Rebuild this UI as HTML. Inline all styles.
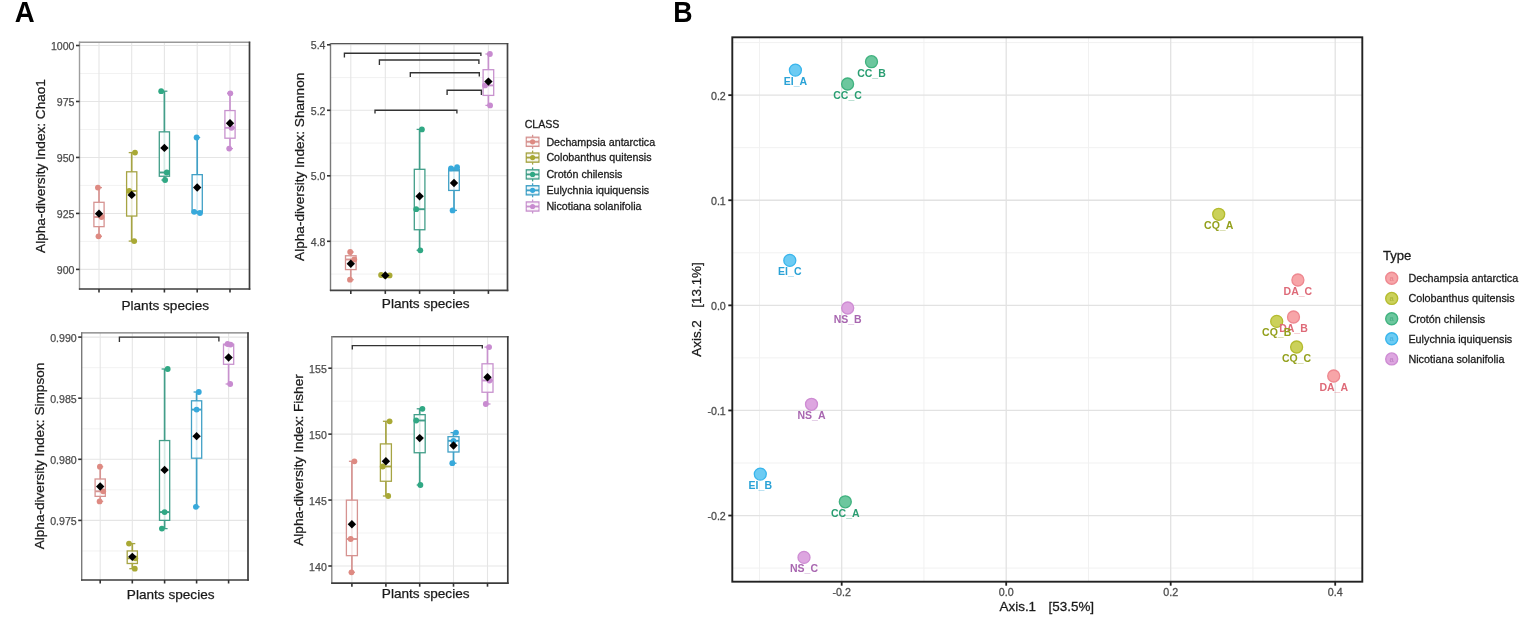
<!DOCTYPE html>
<html><head><meta charset="utf-8"><title>Alpha diversity and PCoA</title>
<style>html,body{margin:0;padding:0;background:#fff;} svg{display:block;filter:blur(0.3px);}</style></head>
<body>
<svg width="1535" height="623" viewBox="0 0 1535 623" font-family='"Liberation Sans", "DejaVu Sans", sans-serif'>
<rect width="1535" height="623" fill="#FFFFFF"/>
<text transform="translate(14.7,21.8) scale(0.945,1)" font-size="29.2" font-weight="bold" fill="#000">A</text>
<text transform="translate(673.3,21.8) scale(0.915,1)" font-size="29.2" font-weight="bold" fill="#000">B</text>
<line x1="79.50" y1="73.49" x2="249.50" y2="73.49" stroke="#F1F1F1" stroke-width="0.9" />
<line x1="79.50" y1="129.46" x2="249.50" y2="129.46" stroke="#F1F1F1" stroke-width="0.9" />
<line x1="79.50" y1="185.44" x2="249.50" y2="185.44" stroke="#F1F1F1" stroke-width="0.9" />
<line x1="79.50" y1="241.41" x2="249.50" y2="241.41" stroke="#F1F1F1" stroke-width="0.9" />
<line x1="99.00" y1="42.20" x2="99.00" y2="289.00" stroke="#E5E5E5" stroke-width="1.1" />
<line x1="131.70" y1="42.20" x2="131.70" y2="289.00" stroke="#E5E5E5" stroke-width="1.1" />
<line x1="164.40" y1="42.20" x2="164.40" y2="289.00" stroke="#E5E5E5" stroke-width="1.1" />
<line x1="197.20" y1="42.20" x2="197.20" y2="289.00" stroke="#E5E5E5" stroke-width="1.1" />
<line x1="230.00" y1="42.20" x2="230.00" y2="289.00" stroke="#E5E5E5" stroke-width="1.1" />
<line x1="79.50" y1="45.50" x2="249.50" y2="45.50" stroke="#E5E5E5" stroke-width="1.1" />
<line x1="79.50" y1="101.47" x2="249.50" y2="101.47" stroke="#E5E5E5" stroke-width="1.1" />
<line x1="79.50" y1="157.45" x2="249.50" y2="157.45" stroke="#E5E5E5" stroke-width="1.1" />
<line x1="79.50" y1="213.43" x2="249.50" y2="213.43" stroke="#E5E5E5" stroke-width="1.1" />
<line x1="79.50" y1="269.40" x2="249.50" y2="269.40" stroke="#E5E5E5" stroke-width="1.1" />
<line x1="99.00" y1="187.60" x2="99.00" y2="236.30" stroke="#D69391" stroke-width="1.7" />
<line x1="96.00" y1="187.60" x2="102.00" y2="187.60" stroke="#D69391" stroke-width="1.3" />
<line x1="96.00" y1="236.30" x2="102.00" y2="236.30" stroke="#D69391" stroke-width="1.3" />
<rect x="93.90" y="202.30" width="10.20" height="24.35" fill="#fff" fill-opacity="0.78" stroke="#D69391" stroke-width="1.3"/>
<line x1="93.90" y1="217.00" x2="104.10" y2="217.00" stroke="#D69391" stroke-width="1.9" />
<circle cx="97.90" cy="187.60" r="2.9" fill="#DE8A82"/>
<circle cx="101.50" cy="217.00" r="2.9" fill="#DE8A82"/>
<circle cx="98.50" cy="236.30" r="2.9" fill="#DE8A82"/>
<path d="M99.00 209.43 L103.20 213.63 L99.00 217.83 L94.80 213.63 Z" fill="#000"/>
<line x1="131.70" y1="152.60" x2="131.70" y2="241.10" stroke="#A6A443" stroke-width="1.7" />
<line x1="128.70" y1="152.60" x2="134.70" y2="152.60" stroke="#A6A443" stroke-width="1.3" />
<line x1="128.70" y1="241.10" x2="134.70" y2="241.10" stroke="#A6A443" stroke-width="1.3" />
<rect x="126.60" y="171.80" width="10.20" height="44.25" fill="#fff" fill-opacity="0.78" stroke="#A6A443" stroke-width="1.3"/>
<line x1="126.60" y1="191.00" x2="136.80" y2="191.00" stroke="#A6A443" stroke-width="1.9" />
<circle cx="135.00" cy="152.60" r="2.9" fill="#A9A935"/>
<circle cx="129.20" cy="191.00" r="2.9" fill="#A9A935"/>
<circle cx="134.20" cy="241.10" r="2.9" fill="#A9A935"/>
<path d="M131.70 190.70 L135.90 194.90 L131.70 199.10 L127.50 194.90 Z" fill="#000"/>
<line x1="164.40" y1="91.20" x2="164.40" y2="180.00" stroke="#429E89" stroke-width="1.7" />
<line x1="161.40" y1="91.20" x2="167.40" y2="91.20" stroke="#429E89" stroke-width="1.3" />
<line x1="161.40" y1="180.00" x2="167.40" y2="180.00" stroke="#429E89" stroke-width="1.3" />
<rect x="159.30" y="131.85" width="10.20" height="44.40" fill="#fff" fill-opacity="0.78" stroke="#429E89" stroke-width="1.3"/>
<line x1="159.30" y1="172.50" x2="169.50" y2="172.50" stroke="#429E89" stroke-width="1.9" />
<circle cx="161.20" cy="91.20" r="2.9" fill="#30A884"/>
<circle cx="166.80" cy="172.50" r="2.9" fill="#30A884"/>
<circle cx="165.10" cy="180.00" r="2.9" fill="#30A884"/>
<path d="M164.40 143.70 L168.60 147.90 L164.40 152.10 L160.20 147.90 Z" fill="#000"/>
<line x1="197.20" y1="137.50" x2="197.20" y2="213.00" stroke="#40A0C6" stroke-width="1.7" />
<line x1="194.20" y1="137.50" x2="200.20" y2="137.50" stroke="#40A0C6" stroke-width="1.3" />
<line x1="194.20" y1="213.00" x2="200.20" y2="213.00" stroke="#40A0C6" stroke-width="1.3" />
<rect x="192.10" y="174.65" width="10.20" height="37.75" fill="#fff" fill-opacity="0.78" stroke="#40A0C6" stroke-width="1.3"/>
<line x1="192.10" y1="211.80" x2="202.30" y2="211.80" stroke="#40A0C6" stroke-width="1.9" />
<circle cx="196.60" cy="137.50" r="2.9" fill="#37A9DB"/>
<circle cx="194.20" cy="211.80" r="2.9" fill="#37A9DB"/>
<circle cx="200.00" cy="213.00" r="2.9" fill="#37A9DB"/>
<path d="M197.20 183.23 L201.40 187.43 L197.20 191.63 L193.00 187.43 Z" fill="#000"/>
<line x1="230.00" y1="93.30" x2="230.00" y2="148.60" stroke="#C892CE" stroke-width="1.7" />
<line x1="227.00" y1="93.30" x2="233.00" y2="93.30" stroke="#C892CE" stroke-width="1.3" />
<line x1="227.00" y1="148.60" x2="233.00" y2="148.60" stroke="#C892CE" stroke-width="1.3" />
<rect x="224.90" y="110.55" width="10.20" height="27.65" fill="#fff" fill-opacity="0.78" stroke="#C892CE" stroke-width="1.3"/>
<line x1="224.90" y1="127.80" x2="235.10" y2="127.80" stroke="#C892CE" stroke-width="1.9" />
<circle cx="230.30" cy="93.30" r="2.9" fill="#C88BD0"/>
<circle cx="231.50" cy="127.80" r="2.9" fill="#C88BD0"/>
<circle cx="229.20" cy="148.60" r="2.9" fill="#C88BD0"/>
<path d="M230.00 119.03 L234.20 123.23 L230.00 127.43 L225.80 123.23 Z" fill="#000"/>
<line x1="78.90" y1="42.20" x2="250.20" y2="42.20" stroke="#999999" stroke-width="1.4" />
<line x1="79.50" y1="41.60" x2="79.50" y2="289.70" stroke="#9E9E9E" stroke-width="1.4" />
<line x1="78.90" y1="289.00" x2="250.30" y2="289.00" stroke="#3C3C3C" stroke-width="1.7" />
<line x1="249.50" y1="41.60" x2="249.50" y2="289.80" stroke="#3C3C3C" stroke-width="1.7" />
<line x1="76.00" y1="45.50" x2="79.50" y2="45.50" stroke="#333" stroke-width="1.6" />
<text x="74.50" y="50.00" font-size="10.6" fill="#4D4D4D" text-anchor="end" font-weight="normal" stroke="#4D4D4D" stroke-width="0.25">1000</text>
<line x1="76.00" y1="101.47" x2="79.50" y2="101.47" stroke="#333" stroke-width="1.6" />
<text x="74.50" y="105.97" font-size="10.6" fill="#4D4D4D" text-anchor="end" font-weight="normal" stroke="#4D4D4D" stroke-width="0.25">975</text>
<line x1="76.00" y1="157.45" x2="79.50" y2="157.45" stroke="#333" stroke-width="1.6" />
<text x="74.50" y="161.95" font-size="10.6" fill="#4D4D4D" text-anchor="end" font-weight="normal" stroke="#4D4D4D" stroke-width="0.25">950</text>
<line x1="76.00" y1="213.43" x2="79.50" y2="213.43" stroke="#333" stroke-width="1.6" />
<text x="74.50" y="217.93" font-size="10.6" fill="#4D4D4D" text-anchor="end" font-weight="normal" stroke="#4D4D4D" stroke-width="0.25">925</text>
<line x1="76.00" y1="269.40" x2="79.50" y2="269.40" stroke="#333" stroke-width="1.6" />
<text x="74.50" y="273.90" font-size="10.6" fill="#4D4D4D" text-anchor="end" font-weight="normal" stroke="#4D4D4D" stroke-width="0.25">900</text>
<line x1="99.00" y1="289.00" x2="99.00" y2="292.50" stroke="#333" stroke-width="1.6" />
<line x1="131.70" y1="289.00" x2="131.70" y2="292.50" stroke="#333" stroke-width="1.6" />
<line x1="164.40" y1="289.00" x2="164.40" y2="292.50" stroke="#333" stroke-width="1.6" />
<line x1="197.20" y1="289.00" x2="197.20" y2="292.50" stroke="#333" stroke-width="1.6" />
<line x1="230.00" y1="289.00" x2="230.00" y2="292.50" stroke="#333" stroke-width="1.6" />
<text x="165.30" y="309.90" font-size="13.6" fill="#1A1A1A" text-anchor="middle" font-weight="normal" stroke="#1A1A1A" stroke-width="0.25">Plants species</text>
<text transform="translate(45.10,166.00) rotate(-90)" font-size="13.6" fill="#1A1A1A" text-anchor="middle" stroke="#1A1A1A" stroke-width="0.25">Alpha-diversity Index: Chao1</text>
<line x1="330.50" y1="77.55" x2="507.50" y2="77.55" stroke="#F1F1F1" stroke-width="0.9" />
<line x1="330.50" y1="143.05" x2="507.50" y2="143.05" stroke="#F1F1F1" stroke-width="0.9" />
<line x1="330.50" y1="208.55" x2="507.50" y2="208.55" stroke="#F1F1F1" stroke-width="0.9" />
<line x1="330.50" y1="274.05" x2="507.50" y2="274.05" stroke="#F1F1F1" stroke-width="0.9" />
<line x1="350.80" y1="43.60" x2="350.80" y2="290.40" stroke="#E5E5E5" stroke-width="1.1" />
<line x1="385.30" y1="43.60" x2="385.30" y2="290.40" stroke="#E5E5E5" stroke-width="1.1" />
<line x1="419.60" y1="43.60" x2="419.60" y2="290.40" stroke="#E5E5E5" stroke-width="1.1" />
<line x1="454.00" y1="43.60" x2="454.00" y2="290.40" stroke="#E5E5E5" stroke-width="1.1" />
<line x1="488.40" y1="43.60" x2="488.40" y2="290.40" stroke="#E5E5E5" stroke-width="1.1" />
<line x1="330.50" y1="44.80" x2="507.50" y2="44.80" stroke="#E5E5E5" stroke-width="1.1" />
<line x1="330.50" y1="110.30" x2="507.50" y2="110.30" stroke="#E5E5E5" stroke-width="1.1" />
<line x1="330.50" y1="175.80" x2="507.50" y2="175.80" stroke="#E5E5E5" stroke-width="1.1" />
<line x1="330.50" y1="241.30" x2="507.50" y2="241.30" stroke="#E5E5E5" stroke-width="1.1" />
<line x1="350.80" y1="252.00" x2="350.80" y2="279.70" stroke="#D69391" stroke-width="1.7" />
<line x1="347.80" y1="252.00" x2="353.80" y2="252.00" stroke="#D69391" stroke-width="1.3" />
<line x1="347.80" y1="279.70" x2="353.80" y2="279.70" stroke="#D69391" stroke-width="1.3" />
<rect x="345.50" y="255.75" width="10.60" height="13.85" fill="#fff" fill-opacity="0.78" stroke="#D69391" stroke-width="1.3"/>
<line x1="345.50" y1="259.50" x2="356.10" y2="259.50" stroke="#D69391" stroke-width="1.9" />
<circle cx="350.20" cy="252.00" r="2.9" fill="#DE8A82"/>
<circle cx="354.30" cy="259.50" r="2.9" fill="#DE8A82"/>
<circle cx="350.00" cy="279.70" r="2.9" fill="#DE8A82"/>
<path d="M350.80 259.53 L355.00 263.73 L350.80 267.93 L346.60 263.73 Z" fill="#000"/>
<line x1="385.30" y1="275.00" x2="385.30" y2="275.80" stroke="#A6A443" stroke-width="1.7" />
<line x1="382.30" y1="275.00" x2="388.30" y2="275.00" stroke="#A6A443" stroke-width="1.3" />
<line x1="382.30" y1="275.80" x2="388.30" y2="275.80" stroke="#A6A443" stroke-width="1.3" />
<rect x="380.00" y="275.20" width="10.60" height="0.40" fill="#fff" fill-opacity="0.78" stroke="#A6A443" stroke-width="1.3"/>
<line x1="380.00" y1="275.40" x2="390.60" y2="275.40" stroke="#A6A443" stroke-width="1.9" />
<circle cx="381.10" cy="275.00" r="2.9" fill="#A9A935"/>
<circle cx="389.60" cy="275.40" r="2.9" fill="#A9A935"/>
<circle cx="385.30" cy="275.80" r="2.9" fill="#A9A935"/>
<path d="M385.30 271.20 L389.50 275.40 L385.30 279.60 L381.10 275.40 Z" fill="#000"/>
<line x1="419.60" y1="129.40" x2="419.60" y2="250.30" stroke="#429E89" stroke-width="1.7" />
<line x1="416.60" y1="129.40" x2="422.60" y2="129.40" stroke="#429E89" stroke-width="1.3" />
<line x1="416.60" y1="250.30" x2="422.60" y2="250.30" stroke="#429E89" stroke-width="1.3" />
<rect x="414.30" y="169.30" width="10.60" height="60.45" fill="#fff" fill-opacity="0.78" stroke="#429E89" stroke-width="1.3"/>
<line x1="414.30" y1="209.20" x2="424.90" y2="209.20" stroke="#429E89" stroke-width="1.9" />
<circle cx="421.90" cy="129.40" r="2.9" fill="#30A884"/>
<circle cx="416.20" cy="209.20" r="2.9" fill="#30A884"/>
<circle cx="420.30" cy="250.30" r="2.9" fill="#30A884"/>
<path d="M419.60 192.10 L423.80 196.30 L419.60 200.50 L415.40 196.30 Z" fill="#000"/>
<line x1="454.00" y1="168.00" x2="454.00" y2="210.40" stroke="#40A0C6" stroke-width="1.7" />
<line x1="451.00" y1="168.00" x2="457.00" y2="168.00" stroke="#40A0C6" stroke-width="1.3" />
<line x1="451.00" y1="210.40" x2="457.00" y2="210.40" stroke="#40A0C6" stroke-width="1.3" />
<rect x="448.70" y="169.25" width="10.60" height="21.20" fill="#fff" fill-opacity="0.78" stroke="#40A0C6" stroke-width="1.3"/>
<line x1="448.70" y1="170.50" x2="459.30" y2="170.50" stroke="#40A0C6" stroke-width="1.9" />
<circle cx="457.10" cy="167.20" r="2.9" fill="#37A9DB"/>
<circle cx="451.00" cy="168.30" r="2.9" fill="#37A9DB"/>
<circle cx="452.60" cy="210.40" r="2.9" fill="#37A9DB"/>
<path d="M454.00 178.77 L458.20 182.97 L454.00 187.17 L449.80 182.97 Z" fill="#000"/>
<line x1="488.40" y1="54.00" x2="488.40" y2="105.40" stroke="#C892CE" stroke-width="1.7" />
<line x1="485.40" y1="54.00" x2="491.40" y2="54.00" stroke="#C892CE" stroke-width="1.3" />
<line x1="485.40" y1="105.40" x2="491.40" y2="105.40" stroke="#C892CE" stroke-width="1.3" />
<rect x="483.10" y="69.70" width="10.60" height="25.70" fill="#fff" fill-opacity="0.78" stroke="#C892CE" stroke-width="1.3"/>
<line x1="483.10" y1="85.40" x2="493.70" y2="85.40" stroke="#C892CE" stroke-width="1.9" />
<circle cx="489.90" cy="54.00" r="2.9" fill="#C88BD0"/>
<circle cx="485.00" cy="85.40" r="2.9" fill="#C88BD0"/>
<circle cx="490.10" cy="105.40" r="2.9" fill="#C88BD0"/>
<path d="M488.40 77.40 L492.60 81.60 L488.40 85.80 L484.20 81.60 Z" fill="#000"/>
<path d="M344.40 57.40 L344.40 53.20 L480.90 53.20 L480.90 56.10" fill="none" stroke="#333" stroke-width="1.35"/>
<path d="M379.40 65.00 L379.40 60.00 L478.90 60.00 L478.90 64.00" fill="none" stroke="#333" stroke-width="1.35"/>
<path d="M410.30 77.00 L410.30 72.70 L479.30 72.70 L479.30 76.50" fill="none" stroke="#333" stroke-width="1.35"/>
<path d="M447.10 95.00 L447.10 90.20 L481.40 90.20 L481.40 95.00" fill="none" stroke="#333" stroke-width="1.35"/>
<path d="M375.00 113.50 L375.00 110.20 L456.90 110.20 L456.90 113.50" fill="none" stroke="#333" stroke-width="1.35"/>
<line x1="329.90" y1="43.60" x2="508.20" y2="43.60" stroke="#555555" stroke-width="1.4" />
<line x1="330.50" y1="43.00" x2="330.50" y2="291.10" stroke="#7A7A7A" stroke-width="1.4" />
<line x1="329.90" y1="290.40" x2="508.30" y2="290.40" stroke="#444444" stroke-width="1.7" />
<line x1="507.50" y1="43.00" x2="507.50" y2="291.20" stroke="#444444" stroke-width="1.7" />
<line x1="327.00" y1="44.80" x2="330.50" y2="44.80" stroke="#333" stroke-width="1.6" />
<text x="325.50" y="49.30" font-size="10.6" fill="#4D4D4D" text-anchor="end" font-weight="normal" stroke="#4D4D4D" stroke-width="0.25">5.4</text>
<line x1="327.00" y1="110.30" x2="330.50" y2="110.30" stroke="#333" stroke-width="1.6" />
<text x="325.50" y="114.80" font-size="10.6" fill="#4D4D4D" text-anchor="end" font-weight="normal" stroke="#4D4D4D" stroke-width="0.25">5.2</text>
<line x1="327.00" y1="175.80" x2="330.50" y2="175.80" stroke="#333" stroke-width="1.6" />
<text x="325.50" y="180.30" font-size="10.6" fill="#4D4D4D" text-anchor="end" font-weight="normal" stroke="#4D4D4D" stroke-width="0.25">5.0</text>
<line x1="327.00" y1="241.30" x2="330.50" y2="241.30" stroke="#333" stroke-width="1.6" />
<text x="325.50" y="245.80" font-size="10.6" fill="#4D4D4D" text-anchor="end" font-weight="normal" stroke="#4D4D4D" stroke-width="0.25">4.8</text>
<line x1="350.80" y1="290.40" x2="350.80" y2="293.90" stroke="#333" stroke-width="1.6" />
<line x1="385.30" y1="290.40" x2="385.30" y2="293.90" stroke="#333" stroke-width="1.6" />
<line x1="419.60" y1="290.40" x2="419.60" y2="293.90" stroke="#333" stroke-width="1.6" />
<line x1="454.00" y1="290.40" x2="454.00" y2="293.90" stroke="#333" stroke-width="1.6" />
<line x1="488.40" y1="290.40" x2="488.40" y2="293.90" stroke="#333" stroke-width="1.6" />
<text x="425.70" y="307.80" font-size="13.6" fill="#1A1A1A" text-anchor="middle" font-weight="normal" stroke="#1A1A1A" stroke-width="0.25">Plants species</text>
<text transform="translate(304.10,166.80) rotate(-90)" font-size="13.6" fill="#1A1A1A" text-anchor="middle" stroke="#1A1A1A" stroke-width="0.25">Alpha-diversity Index: Shannon</text>
<line x1="81.70" y1="367.65" x2="248.00" y2="367.65" stroke="#F1F1F1" stroke-width="0.9" />
<line x1="81.70" y1="428.75" x2="248.00" y2="428.75" stroke="#F1F1F1" stroke-width="0.9" />
<line x1="81.70" y1="489.85" x2="248.00" y2="489.85" stroke="#F1F1F1" stroke-width="0.9" />
<line x1="81.70" y1="550.95" x2="248.00" y2="550.95" stroke="#F1F1F1" stroke-width="0.9" />
<line x1="100.20" y1="332.90" x2="100.20" y2="580.00" stroke="#E5E5E5" stroke-width="1.1" />
<line x1="132.30" y1="332.90" x2="132.30" y2="580.00" stroke="#E5E5E5" stroke-width="1.1" />
<line x1="164.60" y1="332.90" x2="164.60" y2="580.00" stroke="#E5E5E5" stroke-width="1.1" />
<line x1="196.60" y1="332.90" x2="196.60" y2="580.00" stroke="#E5E5E5" stroke-width="1.1" />
<line x1="228.60" y1="332.90" x2="228.60" y2="580.00" stroke="#E5E5E5" stroke-width="1.1" />
<line x1="81.70" y1="337.10" x2="248.00" y2="337.10" stroke="#E5E5E5" stroke-width="1.1" />
<line x1="81.70" y1="398.20" x2="248.00" y2="398.20" stroke="#E5E5E5" stroke-width="1.1" />
<line x1="81.70" y1="459.30" x2="248.00" y2="459.30" stroke="#E5E5E5" stroke-width="1.1" />
<line x1="81.70" y1="520.40" x2="248.00" y2="520.40" stroke="#E5E5E5" stroke-width="1.1" />
<line x1="100.20" y1="466.70" x2="100.20" y2="501.40" stroke="#D69391" stroke-width="1.7" />
<line x1="97.20" y1="466.70" x2="103.20" y2="466.70" stroke="#D69391" stroke-width="1.3" />
<line x1="97.20" y1="501.40" x2="103.20" y2="501.40" stroke="#D69391" stroke-width="1.3" />
<rect x="95.10" y="479.00" width="10.20" height="17.35" fill="#fff" fill-opacity="0.78" stroke="#D69391" stroke-width="1.3"/>
<line x1="95.10" y1="491.30" x2="105.30" y2="491.30" stroke="#D69391" stroke-width="1.9" />
<circle cx="99.90" cy="466.70" r="2.9" fill="#DE8A82"/>
<circle cx="103.20" cy="491.30" r="2.9" fill="#DE8A82"/>
<circle cx="99.60" cy="501.40" r="2.9" fill="#DE8A82"/>
<path d="M100.20 482.27 L104.40 486.47 L100.20 490.67 L96.00 486.47 Z" fill="#000"/>
<line x1="132.30" y1="543.60" x2="132.30" y2="568.70" stroke="#A6A443" stroke-width="1.7" />
<line x1="129.30" y1="543.60" x2="135.30" y2="543.60" stroke="#A6A443" stroke-width="1.3" />
<line x1="129.30" y1="568.70" x2="135.30" y2="568.70" stroke="#A6A443" stroke-width="1.3" />
<rect x="127.20" y="550.95" width="10.20" height="12.55" fill="#fff" fill-opacity="0.78" stroke="#A6A443" stroke-width="1.3"/>
<line x1="127.20" y1="558.30" x2="137.40" y2="558.30" stroke="#A6A443" stroke-width="1.9" />
<circle cx="129.00" cy="543.60" r="2.9" fill="#A9A935"/>
<circle cx="135.30" cy="558.30" r="2.9" fill="#A9A935"/>
<circle cx="134.80" cy="568.70" r="2.9" fill="#A9A935"/>
<path d="M132.30 552.67 L136.50 556.87 L132.30 561.07 L128.10 556.87 Z" fill="#000"/>
<line x1="164.60" y1="369.00" x2="164.60" y2="528.60" stroke="#429E89" stroke-width="1.7" />
<line x1="161.60" y1="369.00" x2="167.60" y2="369.00" stroke="#429E89" stroke-width="1.3" />
<line x1="161.60" y1="528.60" x2="167.60" y2="528.60" stroke="#429E89" stroke-width="1.3" />
<rect x="159.50" y="440.55" width="10.20" height="79.80" fill="#fff" fill-opacity="0.78" stroke="#429E89" stroke-width="1.3"/>
<line x1="159.50" y1="512.10" x2="169.70" y2="512.10" stroke="#429E89" stroke-width="1.9" />
<circle cx="167.70" cy="369.00" r="2.9" fill="#30A884"/>
<circle cx="164.60" cy="512.10" r="2.9" fill="#30A884"/>
<circle cx="161.90" cy="528.60" r="2.9" fill="#30A884"/>
<path d="M164.60 465.70 L168.80 469.90 L164.60 474.10 L160.40 469.90 Z" fill="#000"/>
<line x1="196.60" y1="392.00" x2="196.60" y2="506.80" stroke="#40A0C6" stroke-width="1.7" />
<line x1="193.60" y1="392.00" x2="199.60" y2="392.00" stroke="#40A0C6" stroke-width="1.3" />
<line x1="193.60" y1="506.80" x2="199.60" y2="506.80" stroke="#40A0C6" stroke-width="1.3" />
<rect x="191.50" y="400.80" width="10.20" height="57.40" fill="#fff" fill-opacity="0.78" stroke="#40A0C6" stroke-width="1.3"/>
<line x1="191.50" y1="409.60" x2="201.70" y2="409.60" stroke="#40A0C6" stroke-width="1.9" />
<circle cx="198.80" cy="392.00" r="2.9" fill="#37A9DB"/>
<circle cx="196.60" cy="409.60" r="2.9" fill="#37A9DB"/>
<circle cx="195.90" cy="506.80" r="2.9" fill="#37A9DB"/>
<path d="M196.60 431.93 L200.80 436.13 L196.60 440.33 L192.40 436.13 Z" fill="#000"/>
<line x1="228.60" y1="344.00" x2="228.60" y2="384.00" stroke="#C892CE" stroke-width="1.7" />
<line x1="225.60" y1="344.00" x2="231.60" y2="344.00" stroke="#C892CE" stroke-width="1.3" />
<line x1="225.60" y1="384.00" x2="231.60" y2="384.00" stroke="#C892CE" stroke-width="1.3" />
<rect x="223.50" y="344.30" width="10.20" height="20.00" fill="#fff" fill-opacity="0.78" stroke="#C892CE" stroke-width="1.3"/>
<line x1="223.50" y1="344.60" x2="233.70" y2="344.60" stroke="#C892CE" stroke-width="1.9" />
<circle cx="227.60" cy="344.00" r="2.9" fill="#C88BD0"/>
<circle cx="230.60" cy="344.60" r="2.9" fill="#C88BD0"/>
<circle cx="230.20" cy="384.00" r="2.9" fill="#C88BD0"/>
<path d="M228.60 353.33 L232.80 357.53 L228.60 361.73 L224.40 357.53 Z" fill="#000"/>
<path d="M119.40 342.10 L119.40 337.10 L218.90 337.10 L218.90 341.50" fill="none" stroke="#333" stroke-width="1.35"/>
<line x1="81.10" y1="332.90" x2="248.70" y2="332.90" stroke="#7A7A7A" stroke-width="1.4" />
<line x1="81.70" y1="332.30" x2="81.70" y2="580.70" stroke="#7A7A7A" stroke-width="1.4" />
<line x1="81.10" y1="580.00" x2="248.80" y2="580.00" stroke="#3C3C3C" stroke-width="1.7" />
<line x1="248.00" y1="332.30" x2="248.00" y2="580.80" stroke="#3C3C3C" stroke-width="1.7" />
<line x1="78.20" y1="337.10" x2="81.70" y2="337.10" stroke="#333" stroke-width="1.6" />
<text x="76.70" y="341.60" font-size="10.6" fill="#4D4D4D" text-anchor="end" font-weight="normal" stroke="#4D4D4D" stroke-width="0.25">0.990</text>
<line x1="78.20" y1="398.20" x2="81.70" y2="398.20" stroke="#333" stroke-width="1.6" />
<text x="76.70" y="402.70" font-size="10.6" fill="#4D4D4D" text-anchor="end" font-weight="normal" stroke="#4D4D4D" stroke-width="0.25">0.985</text>
<line x1="78.20" y1="459.30" x2="81.70" y2="459.30" stroke="#333" stroke-width="1.6" />
<text x="76.70" y="463.80" font-size="10.6" fill="#4D4D4D" text-anchor="end" font-weight="normal" stroke="#4D4D4D" stroke-width="0.25">0.980</text>
<line x1="78.20" y1="520.40" x2="81.70" y2="520.40" stroke="#333" stroke-width="1.6" />
<text x="76.70" y="524.90" font-size="10.6" fill="#4D4D4D" text-anchor="end" font-weight="normal" stroke="#4D4D4D" stroke-width="0.25">0.975</text>
<line x1="100.20" y1="580.00" x2="100.20" y2="583.50" stroke="#333" stroke-width="1.6" />
<line x1="132.30" y1="580.00" x2="132.30" y2="583.50" stroke="#333" stroke-width="1.6" />
<line x1="164.60" y1="580.00" x2="164.60" y2="583.50" stroke="#333" stroke-width="1.6" />
<line x1="196.60" y1="580.00" x2="196.60" y2="583.50" stroke="#333" stroke-width="1.6" />
<line x1="228.60" y1="580.00" x2="228.60" y2="583.50" stroke="#333" stroke-width="1.6" />
<text x="170.70" y="599.00" font-size="13.6" fill="#1A1A1A" text-anchor="middle" font-weight="normal" stroke="#1A1A1A" stroke-width="0.25">Plants species</text>
<text transform="translate(43.60,456.00) rotate(-90)" font-size="13.6" fill="#1A1A1A" text-anchor="middle" stroke="#1A1A1A" stroke-width="0.25">Alpha-diversity Index: Simpson</text>
<line x1="331.80" y1="401.17" x2="507.80" y2="401.17" stroke="#F1F1F1" stroke-width="0.9" />
<line x1="331.80" y1="467.10" x2="507.80" y2="467.10" stroke="#F1F1F1" stroke-width="0.9" />
<line x1="331.80" y1="533.03" x2="507.80" y2="533.03" stroke="#F1F1F1" stroke-width="0.9" />
<line x1="351.90" y1="336.70" x2="351.90" y2="583.20" stroke="#E5E5E5" stroke-width="1.1" />
<line x1="385.90" y1="336.70" x2="385.90" y2="583.20" stroke="#E5E5E5" stroke-width="1.1" />
<line x1="419.70" y1="336.70" x2="419.70" y2="583.20" stroke="#E5E5E5" stroke-width="1.1" />
<line x1="453.50" y1="336.70" x2="453.50" y2="583.20" stroke="#E5E5E5" stroke-width="1.1" />
<line x1="487.50" y1="336.70" x2="487.50" y2="583.20" stroke="#E5E5E5" stroke-width="1.1" />
<line x1="331.80" y1="368.20" x2="507.80" y2="368.20" stroke="#E5E5E5" stroke-width="1.1" />
<line x1="331.80" y1="434.13" x2="507.80" y2="434.13" stroke="#E5E5E5" stroke-width="1.1" />
<line x1="331.80" y1="500.07" x2="507.80" y2="500.07" stroke="#E5E5E5" stroke-width="1.1" />
<line x1="331.80" y1="566.00" x2="507.80" y2="566.00" stroke="#E5E5E5" stroke-width="1.1" />
<line x1="351.90" y1="461.30" x2="351.90" y2="572.30" stroke="#D69391" stroke-width="1.7" />
<line x1="348.90" y1="461.30" x2="354.90" y2="461.30" stroke="#D69391" stroke-width="1.3" />
<line x1="348.90" y1="572.30" x2="354.90" y2="572.30" stroke="#D69391" stroke-width="1.3" />
<rect x="346.40" y="500.15" width="11.00" height="55.50" fill="#fff" fill-opacity="0.78" stroke="#D69391" stroke-width="1.3"/>
<line x1="346.40" y1="539.00" x2="357.40" y2="539.00" stroke="#D69391" stroke-width="1.9" />
<circle cx="354.40" cy="461.30" r="2.9" fill="#DE8A82"/>
<circle cx="350.70" cy="539.00" r="2.9" fill="#DE8A82"/>
<circle cx="351.50" cy="572.30" r="2.9" fill="#DE8A82"/>
<path d="M351.90 520.00 L356.10 524.20 L351.90 528.40 L347.70 524.20 Z" fill="#000"/>
<line x1="385.90" y1="421.30" x2="385.90" y2="496.00" stroke="#A6A443" stroke-width="1.7" />
<line x1="382.90" y1="421.30" x2="388.90" y2="421.30" stroke="#A6A443" stroke-width="1.3" />
<line x1="382.90" y1="496.00" x2="388.90" y2="496.00" stroke="#A6A443" stroke-width="1.3" />
<rect x="380.40" y="443.90" width="11.00" height="37.35" fill="#fff" fill-opacity="0.78" stroke="#A6A443" stroke-width="1.3"/>
<line x1="380.40" y1="466.50" x2="391.40" y2="466.50" stroke="#A6A443" stroke-width="1.9" />
<circle cx="389.60" cy="421.30" r="2.9" fill="#A9A935"/>
<circle cx="382.70" cy="466.50" r="2.9" fill="#A9A935"/>
<circle cx="388.20" cy="496.00" r="2.9" fill="#A9A935"/>
<path d="M385.90 457.07 L390.10 461.27 L385.90 465.47 L381.70 461.27 Z" fill="#000"/>
<line x1="419.70" y1="408.80" x2="419.70" y2="485.00" stroke="#429E89" stroke-width="1.7" />
<line x1="416.70" y1="408.80" x2="422.70" y2="408.80" stroke="#429E89" stroke-width="1.3" />
<line x1="416.70" y1="485.00" x2="422.70" y2="485.00" stroke="#429E89" stroke-width="1.3" />
<rect x="414.20" y="414.65" width="11.00" height="38.10" fill="#fff" fill-opacity="0.78" stroke="#429E89" stroke-width="1.3"/>
<line x1="414.20" y1="420.50" x2="425.20" y2="420.50" stroke="#429E89" stroke-width="1.9" />
<circle cx="422.40" cy="408.80" r="2.9" fill="#30A884"/>
<circle cx="416.20" cy="420.50" r="2.9" fill="#30A884"/>
<circle cx="420.40" cy="485.00" r="2.9" fill="#30A884"/>
<path d="M419.70 433.90 L423.90 438.10 L419.70 442.30 L415.50 438.10 Z" fill="#000"/>
<line x1="453.50" y1="432.60" x2="453.50" y2="463.20" stroke="#40A0C6" stroke-width="1.7" />
<line x1="450.50" y1="432.60" x2="456.50" y2="432.60" stroke="#40A0C6" stroke-width="1.3" />
<line x1="450.50" y1="463.20" x2="456.50" y2="463.20" stroke="#40A0C6" stroke-width="1.3" />
<rect x="448.00" y="436.70" width="11.00" height="15.30" fill="#fff" fill-opacity="0.78" stroke="#40A0C6" stroke-width="1.3"/>
<line x1="448.00" y1="440.80" x2="459.00" y2="440.80" stroke="#40A0C6" stroke-width="1.9" />
<circle cx="456.00" cy="432.60" r="2.9" fill="#37A9DB"/>
<circle cx="453.50" cy="440.80" r="2.9" fill="#37A9DB"/>
<circle cx="452.30" cy="463.20" r="2.9" fill="#37A9DB"/>
<path d="M453.50 441.33 L457.70 445.53 L453.50 449.73 L449.30 445.53 Z" fill="#000"/>
<line x1="487.50" y1="347.10" x2="487.50" y2="404.00" stroke="#C892CE" stroke-width="1.7" />
<line x1="484.50" y1="347.10" x2="490.50" y2="347.10" stroke="#C892CE" stroke-width="1.3" />
<line x1="484.50" y1="404.00" x2="490.50" y2="404.00" stroke="#C892CE" stroke-width="1.3" />
<rect x="482.00" y="363.80" width="11.00" height="28.45" fill="#fff" fill-opacity="0.78" stroke="#C892CE" stroke-width="1.3"/>
<line x1="482.00" y1="380.50" x2="493.00" y2="380.50" stroke="#C892CE" stroke-width="1.9" />
<circle cx="489.10" cy="347.10" r="2.9" fill="#C88BD0"/>
<circle cx="489.50" cy="380.50" r="2.9" fill="#C88BD0"/>
<circle cx="485.80" cy="404.00" r="2.9" fill="#C88BD0"/>
<path d="M487.50 373.00 L491.70 377.20 L487.50 381.40 L483.30 377.20 Z" fill="#000"/>
<path d="M352.30 349.40 L352.30 345.60 L482.30 345.60 L482.30 348.40" fill="none" stroke="#333" stroke-width="1.35"/>
<line x1="331.20" y1="336.70" x2="508.50" y2="336.70" stroke="#666666" stroke-width="1.4" />
<line x1="331.80" y1="336.10" x2="331.80" y2="583.90" stroke="#888888" stroke-width="1.4" />
<line x1="331.20" y1="583.20" x2="508.60" y2="583.20" stroke="#3C3C3C" stroke-width="1.7" />
<line x1="507.80" y1="336.10" x2="507.80" y2="584.00" stroke="#3C3C3C" stroke-width="1.7" />
<line x1="328.30" y1="368.20" x2="331.80" y2="368.20" stroke="#333" stroke-width="1.6" />
<text x="326.80" y="372.70" font-size="10.6" fill="#4D4D4D" text-anchor="end" font-weight="normal" stroke="#4D4D4D" stroke-width="0.25">155</text>
<line x1="328.30" y1="434.13" x2="331.80" y2="434.13" stroke="#333" stroke-width="1.6" />
<text x="326.80" y="438.63" font-size="10.6" fill="#4D4D4D" text-anchor="end" font-weight="normal" stroke="#4D4D4D" stroke-width="0.25">150</text>
<line x1="328.30" y1="500.07" x2="331.80" y2="500.07" stroke="#333" stroke-width="1.6" />
<text x="326.80" y="504.57" font-size="10.6" fill="#4D4D4D" text-anchor="end" font-weight="normal" stroke="#4D4D4D" stroke-width="0.25">145</text>
<line x1="328.30" y1="566.00" x2="331.80" y2="566.00" stroke="#333" stroke-width="1.6" />
<text x="326.80" y="570.50" font-size="10.6" fill="#4D4D4D" text-anchor="end" font-weight="normal" stroke="#4D4D4D" stroke-width="0.25">140</text>
<line x1="351.90" y1="583.20" x2="351.90" y2="586.70" stroke="#333" stroke-width="1.6" />
<line x1="385.90" y1="583.20" x2="385.90" y2="586.70" stroke="#333" stroke-width="1.6" />
<line x1="419.70" y1="583.20" x2="419.70" y2="586.70" stroke="#333" stroke-width="1.6" />
<line x1="453.50" y1="583.20" x2="453.50" y2="586.70" stroke="#333" stroke-width="1.6" />
<line x1="487.50" y1="583.20" x2="487.50" y2="586.70" stroke="#333" stroke-width="1.6" />
<text x="425.70" y="598.30" font-size="13.6" fill="#1A1A1A" text-anchor="middle" font-weight="normal" stroke="#1A1A1A" stroke-width="0.25">Plants species</text>
<text transform="translate(302.70,460.00) rotate(-90)" font-size="13.6" fill="#1A1A1A" text-anchor="middle" stroke="#1A1A1A" stroke-width="0.25">Alpha-diversity Index: Fisher</text>
<text x="524.70" y="127.60" font-size="10.6" fill="#1A1A1A" text-anchor="start" font-weight="normal"  stroke="#1A1A1A" stroke-width="0.28">CLASS</text>
<line x1="532.60" y1="134.80" x2="532.60" y2="137.20" stroke="#D69391" stroke-width="1.3" />
<line x1="532.60" y1="146.40" x2="532.60" y2="148.80" stroke="#D69391" stroke-width="1.3" />
<rect x="526.30" y="137.20" width="12.6" height="9.2" fill="#D69391" fill-opacity="0.28" stroke="#D69391" stroke-width="1.3"/>
<line x1="526.80" y1="139.50" x2="538.40" y2="139.50" stroke="#fff" stroke-width="1.3" />
<line x1="526.80" y1="144.10" x2="538.40" y2="144.10" stroke="#fff" stroke-width="1.3" />
<line x1="526.20" y1="141.80" x2="539.00" y2="141.80" stroke="#D69391" stroke-width="1.5" />
<circle cx="532.60" cy="141.80" r="2.6" fill="#DE8A82"/>
<text x="546.40" y="145.60" font-size="10.7" fill="#1A1A1A" text-anchor="start" font-weight="normal"  stroke="#1A1A1A" stroke-width="0.28">Dechampsia antarctica</text>
<line x1="532.60" y1="150.60" x2="532.60" y2="153.00" stroke="#A6A443" stroke-width="1.3" />
<line x1="532.60" y1="162.20" x2="532.60" y2="164.60" stroke="#A6A443" stroke-width="1.3" />
<rect x="526.30" y="153.00" width="12.6" height="9.2" fill="#A6A443" fill-opacity="0.28" stroke="#A6A443" stroke-width="1.3"/>
<line x1="526.80" y1="155.30" x2="538.40" y2="155.30" stroke="#fff" stroke-width="1.3" />
<line x1="526.80" y1="159.90" x2="538.40" y2="159.90" stroke="#fff" stroke-width="1.3" />
<line x1="526.20" y1="157.60" x2="539.00" y2="157.60" stroke="#A6A443" stroke-width="1.5" />
<circle cx="532.60" cy="157.60" r="2.6" fill="#A9A935"/>
<text x="546.40" y="161.40" font-size="10.7" fill="#1A1A1A" text-anchor="start" font-weight="normal"  stroke="#1A1A1A" stroke-width="0.28">Colobanthus quitensis</text>
<line x1="532.60" y1="167.40" x2="532.60" y2="169.80" stroke="#429E89" stroke-width="1.3" />
<line x1="532.60" y1="179.00" x2="532.60" y2="181.40" stroke="#429E89" stroke-width="1.3" />
<rect x="526.30" y="169.80" width="12.6" height="9.2" fill="#429E89" fill-opacity="0.28" stroke="#429E89" stroke-width="1.3"/>
<line x1="526.80" y1="172.10" x2="538.40" y2="172.10" stroke="#fff" stroke-width="1.3" />
<line x1="526.80" y1="176.70" x2="538.40" y2="176.70" stroke="#fff" stroke-width="1.3" />
<line x1="526.20" y1="174.40" x2="539.00" y2="174.40" stroke="#429E89" stroke-width="1.5" />
<circle cx="532.60" cy="174.40" r="2.6" fill="#30A884"/>
<text x="546.40" y="178.20" font-size="10.7" fill="#1A1A1A" text-anchor="start" font-weight="normal"  stroke="#1A1A1A" stroke-width="0.28">Crotón chilensis</text>
<line x1="532.60" y1="183.30" x2="532.60" y2="185.70" stroke="#40A0C6" stroke-width="1.3" />
<line x1="532.60" y1="194.90" x2="532.60" y2="197.30" stroke="#40A0C6" stroke-width="1.3" />
<rect x="526.30" y="185.70" width="12.6" height="9.2" fill="#40A0C6" fill-opacity="0.28" stroke="#40A0C6" stroke-width="1.3"/>
<line x1="526.80" y1="188.00" x2="538.40" y2="188.00" stroke="#fff" stroke-width="1.3" />
<line x1="526.80" y1="192.60" x2="538.40" y2="192.60" stroke="#fff" stroke-width="1.3" />
<line x1="526.20" y1="190.30" x2="539.00" y2="190.30" stroke="#40A0C6" stroke-width="1.5" />
<circle cx="532.60" cy="190.30" r="2.6" fill="#37A9DB"/>
<text x="546.40" y="194.10" font-size="10.7" fill="#1A1A1A" text-anchor="start" font-weight="normal"  stroke="#1A1A1A" stroke-width="0.28">Eulychnia iquiquensis</text>
<line x1="532.60" y1="199.50" x2="532.60" y2="201.90" stroke="#C892CE" stroke-width="1.3" />
<line x1="532.60" y1="211.10" x2="532.60" y2="213.50" stroke="#C892CE" stroke-width="1.3" />
<rect x="526.30" y="201.90" width="12.6" height="9.2" fill="#C892CE" fill-opacity="0.28" stroke="#C892CE" stroke-width="1.3"/>
<line x1="526.80" y1="204.20" x2="538.40" y2="204.20" stroke="#fff" stroke-width="1.3" />
<line x1="526.80" y1="208.80" x2="538.40" y2="208.80" stroke="#fff" stroke-width="1.3" />
<line x1="526.20" y1="206.50" x2="539.00" y2="206.50" stroke="#C892CE" stroke-width="1.5" />
<circle cx="532.60" cy="206.50" r="2.6" fill="#C88BD0"/>
<text x="546.40" y="210.30" font-size="10.7" fill="#1A1A1A" text-anchor="start" font-weight="normal"  stroke="#1A1A1A" stroke-width="0.28">Nicotiana solanifolia</text>
<line x1="732.30" y1="568.10" x2="1362.30" y2="568.10" stroke="#F1F1F1" stroke-width="1.0" />
<line x1="732.30" y1="463.00" x2="1362.30" y2="463.00" stroke="#F1F1F1" stroke-width="1.0" />
<line x1="732.30" y1="357.90" x2="1362.30" y2="357.90" stroke="#F1F1F1" stroke-width="1.0" />
<line x1="732.30" y1="252.80" x2="1362.30" y2="252.80" stroke="#F1F1F1" stroke-width="1.0" />
<line x1="732.30" y1="147.70" x2="1362.30" y2="147.70" stroke="#F1F1F1" stroke-width="1.0" />
<line x1="732.30" y1="42.60" x2="1362.30" y2="42.60" stroke="#F1F1F1" stroke-width="1.0" />
<line x1="759.45" y1="37.30" x2="759.45" y2="581.70" stroke="#F1F1F1" stroke-width="1.0" />
<line x1="923.95" y1="37.30" x2="923.95" y2="581.70" stroke="#F1F1F1" stroke-width="1.0" />
<line x1="1088.45" y1="37.30" x2="1088.45" y2="581.70" stroke="#F1F1F1" stroke-width="1.0" />
<line x1="1252.95" y1="37.30" x2="1252.95" y2="581.70" stroke="#F1F1F1" stroke-width="1.0" />
<line x1="732.30" y1="515.55" x2="1362.30" y2="515.55" stroke="#E2E2E2" stroke-width="1.3" />
<line x1="732.30" y1="410.45" x2="1362.30" y2="410.45" stroke="#E2E2E2" stroke-width="1.3" />
<line x1="732.30" y1="305.35" x2="1362.30" y2="305.35" stroke="#E2E2E2" stroke-width="1.3" />
<line x1="732.30" y1="200.25" x2="1362.30" y2="200.25" stroke="#E2E2E2" stroke-width="1.3" />
<line x1="732.30" y1="95.15" x2="1362.30" y2="95.15" stroke="#E2E2E2" stroke-width="1.3" />
<line x1="841.70" y1="37.30" x2="841.70" y2="581.70" stroke="#E2E2E2" stroke-width="1.3" />
<line x1="1006.20" y1="37.30" x2="1006.20" y2="581.70" stroke="#E2E2E2" stroke-width="1.3" />
<line x1="1170.70" y1="37.30" x2="1170.70" y2="581.70" stroke="#E2E2E2" stroke-width="1.3" />
<line x1="1335.20" y1="37.30" x2="1335.20" y2="581.70" stroke="#E2E2E2" stroke-width="1.3" />
<circle cx="795.40" cy="70.10" r="6.0" fill="#6CCBF3" stroke="#38B5EC" stroke-width="1.3"/>
<circle cx="847.60" cy="84.00" r="6.0" fill="#6CC79E" stroke="#40B27F" stroke-width="1.3"/>
<circle cx="871.50" cy="61.70" r="6.0" fill="#6CC79E" stroke="#40B27F" stroke-width="1.3"/>
<circle cx="1218.70" cy="214.30" r="6.0" fill="#CBD15A" stroke="#B4BB2E" stroke-width="1.3"/>
<circle cx="789.80" cy="260.40" r="6.0" fill="#6CCBF3" stroke="#38B5EC" stroke-width="1.3"/>
<circle cx="1297.90" cy="280.00" r="6.0" fill="#F7A5A8" stroke="#EE8890" stroke-width="1.3"/>
<circle cx="847.70" cy="308.00" r="6.0" fill="#DDA6E0" stroke="#CE8CD3" stroke-width="1.3"/>
<circle cx="1293.50" cy="317.00" r="6.0" fill="#F7A5A8" stroke="#EE8890" stroke-width="1.3"/>
<circle cx="1276.70" cy="321.40" r="6.0" fill="#CBD15A" stroke="#B4BB2E" stroke-width="1.3"/>
<circle cx="1296.60" cy="347.00" r="6.0" fill="#CBD15A" stroke="#B4BB2E" stroke-width="1.3"/>
<circle cx="1333.70" cy="376.00" r="6.0" fill="#F7A5A8" stroke="#EE8890" stroke-width="1.3"/>
<circle cx="811.50" cy="404.30" r="6.0" fill="#DDA6E0" stroke="#CE8CD3" stroke-width="1.3"/>
<circle cx="760.30" cy="474.10" r="6.0" fill="#6CCBF3" stroke="#38B5EC" stroke-width="1.3"/>
<circle cx="845.30" cy="501.80" r="6.0" fill="#6CC79E" stroke="#40B27F" stroke-width="1.3"/>
<circle cx="804.00" cy="557.40" r="6.0" fill="#DDA6E0" stroke="#CE8CD3" stroke-width="1.3"/>
<text x="795.40" y="85.00" font-size="10.5" fill="#2AA2D6" text-anchor="middle" font-weight="bold">EI<tspan fill-opacity="0.7">_</tspan>A</text>
<text x="847.60" y="98.90" font-size="10.5" fill="#2A9E72" text-anchor="middle" font-weight="bold">CC<tspan fill-opacity="0.7">_</tspan>C</text>
<text x="871.50" y="76.60" font-size="10.5" fill="#2A9E72" text-anchor="middle" font-weight="bold">CC<tspan fill-opacity="0.7">_</tspan>B</text>
<text x="1218.70" y="229.20" font-size="10.5" fill="#93A01C" text-anchor="middle" font-weight="bold">CQ<tspan fill-opacity="0.7">_</tspan>A</text>
<text x="789.80" y="275.30" font-size="10.5" fill="#2AA2D6" text-anchor="middle" font-weight="bold">EI<tspan fill-opacity="0.7">_</tspan>C</text>
<text x="1297.90" y="294.90" font-size="10.5" fill="#DE6A78" text-anchor="middle" font-weight="bold">DA<tspan fill-opacity="0.7">_</tspan>C</text>
<text x="847.70" y="322.90" font-size="10.5" fill="#A866B0" text-anchor="middle" font-weight="bold">NS<tspan fill-opacity="0.7">_</tspan>B</text>
<text x="1293.50" y="331.90" font-size="10.5" fill="#DE6A78" text-anchor="middle" font-weight="bold">DA<tspan fill-opacity="0.7">_</tspan>B</text>
<text x="1276.70" y="336.30" font-size="10.5" fill="#93A01C" text-anchor="middle" font-weight="bold">CQ<tspan fill-opacity="0.7">_</tspan>B</text>
<text x="1296.60" y="361.90" font-size="10.5" fill="#93A01C" text-anchor="middle" font-weight="bold">CQ<tspan fill-opacity="0.7">_</tspan>C</text>
<text x="1333.70" y="390.90" font-size="10.5" fill="#DE6A78" text-anchor="middle" font-weight="bold">DA<tspan fill-opacity="0.7">_</tspan>A</text>
<text x="811.50" y="419.20" font-size="10.5" fill="#A866B0" text-anchor="middle" font-weight="bold">NS<tspan fill-opacity="0.7">_</tspan>A</text>
<text x="760.30" y="489.00" font-size="10.5" fill="#2AA2D6" text-anchor="middle" font-weight="bold">EI<tspan fill-opacity="0.7">_</tspan>B</text>
<text x="845.30" y="516.70" font-size="10.5" fill="#2A9E72" text-anchor="middle" font-weight="bold">CC<tspan fill-opacity="0.7">_</tspan>A</text>
<text x="804.00" y="572.30" font-size="10.5" fill="#A866B0" text-anchor="middle" font-weight="bold">NS<tspan fill-opacity="0.7">_</tspan>C</text>
<rect x="732.30" y="37.30" width="630.00" height="544.40" fill="none" stroke="#222" stroke-width="1.9"/>
<line x1="728.30" y1="95.15" x2="732.30" y2="95.15" stroke="#222" stroke-width="1.8" />
<text x="725.80" y="99.55" font-size="10.7" fill="#4D4D4D" text-anchor="end" font-weight="normal"  stroke="#4D4D4D" stroke-width="0.28">0.2</text>
<line x1="728.30" y1="200.25" x2="732.30" y2="200.25" stroke="#222" stroke-width="1.8" />
<text x="725.80" y="204.65" font-size="10.7" fill="#4D4D4D" text-anchor="end" font-weight="normal"  stroke="#4D4D4D" stroke-width="0.28">0.1</text>
<line x1="728.30" y1="305.35" x2="732.30" y2="305.35" stroke="#222" stroke-width="1.8" />
<text x="725.80" y="309.75" font-size="10.7" fill="#4D4D4D" text-anchor="end" font-weight="normal"  stroke="#4D4D4D" stroke-width="0.28">0.0</text>
<line x1="728.30" y1="410.45" x2="732.30" y2="410.45" stroke="#222" stroke-width="1.8" />
<text x="725.80" y="414.85" font-size="10.7" fill="#4D4D4D" text-anchor="end" font-weight="normal"  stroke="#4D4D4D" stroke-width="0.28">-0.1</text>
<line x1="728.30" y1="515.55" x2="732.30" y2="515.55" stroke="#222" stroke-width="1.8" />
<text x="725.80" y="519.95" font-size="10.7" fill="#4D4D4D" text-anchor="end" font-weight="normal"  stroke="#4D4D4D" stroke-width="0.28">-0.2</text>
<line x1="841.70" y1="581.70" x2="841.70" y2="585.70" stroke="#222" stroke-width="1.8" />
<text x="841.70" y="595.50" font-size="10.7" fill="#4D4D4D" text-anchor="middle" font-weight="normal"  stroke="#4D4D4D" stroke-width="0.28">-0.2</text>
<line x1="1006.20" y1="581.70" x2="1006.20" y2="585.70" stroke="#222" stroke-width="1.8" />
<text x="1006.20" y="595.50" font-size="10.7" fill="#4D4D4D" text-anchor="middle" font-weight="normal"  stroke="#4D4D4D" stroke-width="0.28">0.0</text>
<line x1="1170.70" y1="581.70" x2="1170.70" y2="585.70" stroke="#222" stroke-width="1.8" />
<text x="1170.70" y="595.50" font-size="10.7" fill="#4D4D4D" text-anchor="middle" font-weight="normal"  stroke="#4D4D4D" stroke-width="0.28">0.2</text>
<line x1="1335.20" y1="581.70" x2="1335.20" y2="585.70" stroke="#222" stroke-width="1.8" />
<text x="1335.20" y="595.50" font-size="10.7" fill="#4D4D4D" text-anchor="middle" font-weight="normal"  stroke="#4D4D4D" stroke-width="0.28">0.4</text>
<text x="1046.80" y="610.60" font-size="13.45" fill="#1A1A1A" text-anchor="middle" font-weight="normal" xml:space="preserve" style="white-space:pre" stroke="#1A1A1A" stroke-width="0.28">Axis.1<tspan dx="1.2">   [53.5%]</tspan></text>
<text transform="translate(701.2,309.5) rotate(-90)" font-size="13.45" fill="#1A1A1A" text-anchor="middle" style="white-space:pre" stroke="#1A1A1A" stroke-width="0.25">Axis.2<tspan dx="1.2">   [13.1%]</tspan></text>
<text x="1383.00" y="259.80" font-size="13.1" fill="#1A1A1A" text-anchor="start" font-weight="normal"  stroke="#1A1A1A" stroke-width="0.28">Type</text>
<circle cx="1391.7" cy="278.20" r="6.0" fill="#F7A5A8" stroke="#EE8890" stroke-width="1.4"/>
<text x="1391.70" y="280.80" font-size="7.5" fill="#DE6A78" text-anchor="middle" font-weight="bold" opacity="0.5">a</text>
<text x="1408.40" y="282.00" font-size="10.8" fill="#1A1A1A" text-anchor="start" font-weight="normal"  stroke="#1A1A1A" stroke-width="0.28">Dechampsia antarctica</text>
<circle cx="1391.7" cy="298.40" r="6.0" fill="#CBD15A" stroke="#B4BB2E" stroke-width="1.4"/>
<text x="1391.70" y="301.00" font-size="7.5" fill="#93A01C" text-anchor="middle" font-weight="bold" opacity="0.5">a</text>
<text x="1408.40" y="302.20" font-size="10.8" fill="#1A1A1A" text-anchor="start" font-weight="normal"  stroke="#1A1A1A" stroke-width="0.28">Colobanthus quitensis</text>
<circle cx="1391.7" cy="318.80" r="6.0" fill="#6CC79E" stroke="#40B27F" stroke-width="1.4"/>
<text x="1391.70" y="321.40" font-size="7.5" fill="#2A9E72" text-anchor="middle" font-weight="bold" opacity="0.5">a</text>
<text x="1408.40" y="322.60" font-size="10.8" fill="#1A1A1A" text-anchor="start" font-weight="normal"  stroke="#1A1A1A" stroke-width="0.28">Crotón chilensis</text>
<circle cx="1391.7" cy="338.70" r="6.0" fill="#6CCBF3" stroke="#38B5EC" stroke-width="1.4"/>
<text x="1391.70" y="341.30" font-size="7.5" fill="#2AA2D6" text-anchor="middle" font-weight="bold" opacity="0.5">a</text>
<text x="1408.40" y="342.50" font-size="10.8" fill="#1A1A1A" text-anchor="start" font-weight="normal"  stroke="#1A1A1A" stroke-width="0.28">Eulychnia iquiquensis</text>
<circle cx="1391.7" cy="358.90" r="6.0" fill="#DDA6E0" stroke="#CE8CD3" stroke-width="1.4"/>
<text x="1391.70" y="361.50" font-size="7.5" fill="#A866B0" text-anchor="middle" font-weight="bold" opacity="0.5">a</text>
<text x="1408.40" y="362.70" font-size="10.8" fill="#1A1A1A" text-anchor="start" font-weight="normal"  stroke="#1A1A1A" stroke-width="0.28">Nicotiana solanifolia</text>
</svg>
</body></html>
